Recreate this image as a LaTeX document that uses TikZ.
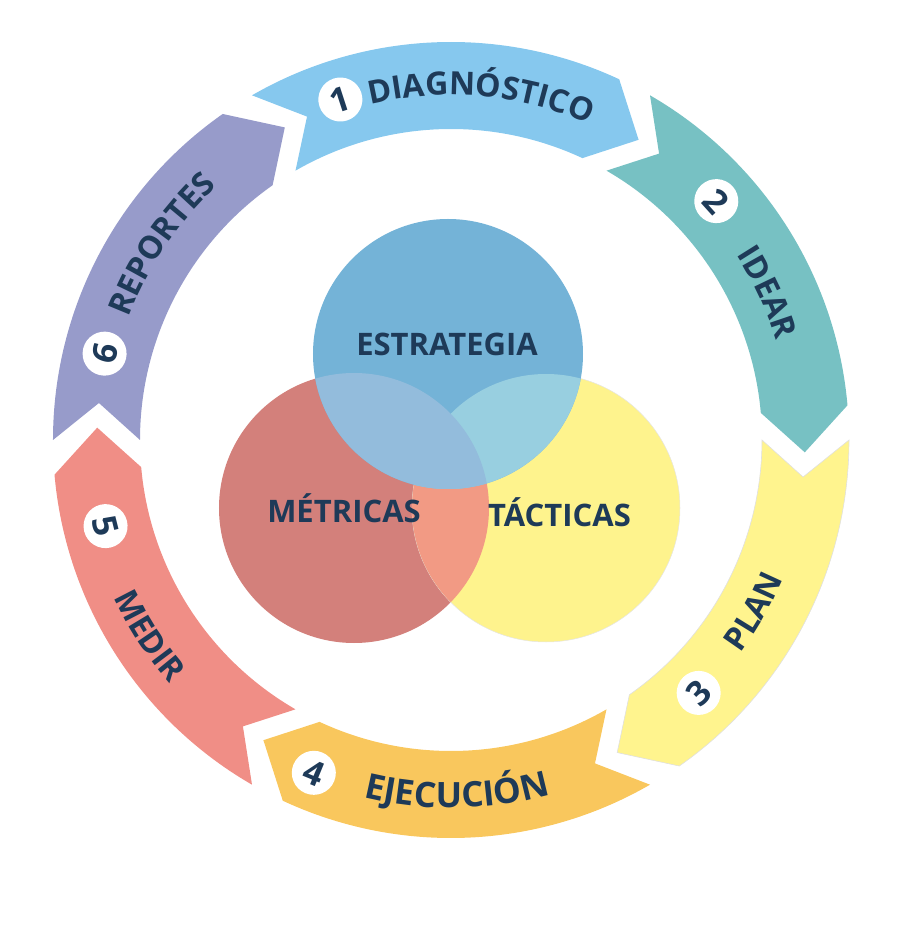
\documentclass[tikz,border=0pt]{standalone}
\usepackage{fontspec}
\setmainfont{Open Sans}
\usetikzlibrary{decorations.text}

\definecolor{navy}{HTML}{1E3A58}
\definecolor{diagc}{HTML}{86C8EE}
\definecolor{ideac}{HTML}{77C1C3}
\definecolor{planc}{HTML}{FFF48E}
\definecolor{ejecc}{HTML}{F9C75D}
\definecolor{medc}{HTML}{F08E86}
\definecolor{repc}{HTML}{979BCA}
\definecolor{vblue}{HTML}{74B3D7}
\definecolor{vred}{HTML}{D3807B}
\definecolor{vyel}{HTML}{FEF38D}
\definecolor{vredyel}{HTML}{F29A84}
\definecolor{vbluered}{HTML}{93BCDC}
\definecolor{vblueyel}{HTML}{98CFE0}

\newcommand\lbl{\color{navy}\bfseries\fontsize{32}{32}\selectfont}
\newcommand\biglbl{\color{navy}\bfseries\fontsize{35}{35}\selectfont}

\tikzset{
  diagfill/.style={fill=diagc},
  ideafill/.style={fill=ideac},
  planfill/.style={fill=planc, draw=black!12, line width=.6pt},
  ejecfill/.style={fill=ejecc},
  medfill/.style={fill=medc},
  repfill/.style={fill=repc},
  numdot/.style={circle, fill=white, minimum size=44pt, inner sep=0pt, text=navy,
    font=\bfseries\fontsize{34}{34}\selectfont},
  venntxt/.style={text=navy, font=\bfseries\fontsize{31}{31}\selectfont, anchor=base, inner sep=0pt},
  cwtxt/.style={decorate, decoration={text along path, text align=center, text={#1}}},
}

\begin{document}
\begin{tikzpicture}[x=1pt, y=1pt]
\useasboundingbox (-451,-499) rectangle (449,440);

% ring of arrows, tail angle / style
\foreach \t/\s in {120/diagfill,60/ideafill,0/planfill,-60/ejecfill,-120/medfill,180/repfill}
  \path[\s] (\t:398) arc[start angle=\t, end angle=\t-55, radius=398pt] -- (\t-62:354)
    -- (\t-55:311) arc[start angle=\t-55, end angle=\t, radius=311pt] -- (\t-6:354) -- cycle;

% labels on the ring
\path[cwtxt={|\lbl|DIAGNÓSTICO}] (120:345) arc[start angle=120, end angle=50, radius=345pt];
\path[cwtxt={|\lbl|IDEAR}] (60:340) arc[start angle=60, end angle=-10, radius=340pt];
\path[cwtxt={|\lbl|REPORTES}] (181:345) arc[start angle=181, end angle=111, radius=345pt];
\path[cwtxt={|\lbl|PLAN}] (-64.5:360) arc[start angle=-64.5, end angle=5.5, radius=360pt];
\path[cwtxt={|\biglbl|EJECUCIÓN}] (-124:368) arc[start angle=-124, end angle=-54, radius=368pt];
\path[cwtxt={|\lbl|MEDIR}] (-182:372) arc[start angle=-182, end angle=-112, radius=372pt];

\node[numdot, rotate=18] (n1) at (108:358) {1};
\node[numdot, rotate=-48] (n2) at (42:357) {2};
\node[numdot, rotate=44.4] (n3) at (-45.6:354) {3};
\node[numdot, rotate=-22.4] (n4) at (-112.4:360) {4};
\node[numdot, rotate=-76] (n5) at (-166:356) {5};
\node[numdot, rotate=76] (n6) at (166:357) {6};

% venn
\fill[vred] (-97,-68) circle[radius=135pt];
\fill[vyel] (95,-68) circle[radius=134pt];
\draw[black!10, line width=.5pt] (95,-68) circle[radius=134pt];
\begin{scope}
  \clip (-97,-68) circle[radius=135pt];
  \fill[vredyel] (95,-68) circle[radius=134pt];
\end{scope}
\fill[vblue] (-3,86) circle[radius=135pt];
\begin{scope}
  \clip (-3,86) circle[radius=135pt];
  \fill[vblueyel] (95,-68) circle[radius=134pt];
  \fill[vbluered] (-97,-68) circle[radius=135pt];
\end{scope}

\node[venntxt] (estr) at (-4,84) {ESTRATEGIA};
\node[venntxt] (metr) at (-107,-83) {MÉTRICAS};
\node[venntxt] (tact) at (108.5,-86) {TÁCTICAS};

\end{tikzpicture}
\end{document}
